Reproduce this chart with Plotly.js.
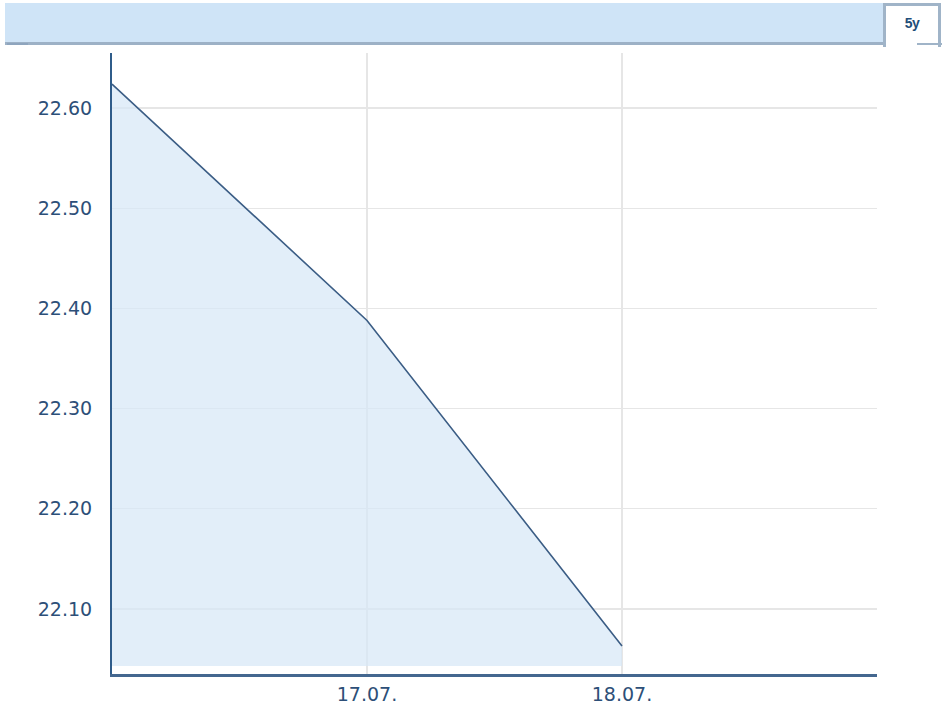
<!DOCTYPE html>
<html>
<head>
<meta charset="utf-8">
<script src="https://cdn.plot.ly/plotly-3.0.1.min.js"></script>
<style>
  html, body { margin: 0; padding: 0; background: #ffffff; }
  #wrap { position: relative; width: 949px; height: 709px; overflow: hidden; }
  #chart { position: absolute; left: 0; top: 0; width: 949px; height: 709px; }
  #banner { position: absolute; left: 5px; top: 3px; width: 878px; height: 39px; background: #cfe4f7; border-bottom: 3px solid #9db1c6; }
  #bseg { position: absolute; left: 7px; top: 43px; width: 21px; height: 2px; background: #8ea5be; }
  #tab { position: absolute; left: 883px; top: 3px; width: 52px; height: 41px; background: #ffffff;
         border-left: 3px solid #a0b4c8; border-top: 3px solid #a0b4c8; border-right: 3px solid #a0b4c8; box-sizing: content-box; }
  #tab span { position: absolute; left: 0; right: 0; top: 9px; text-align: center; font: bold 14px "Liberation Sans", Arial, sans-serif; color: #1f4e79; letter-spacing: -0.5px; }
  #tseg { position: absolute; left: 917px; top: 43px; width: 25px; height: 2px; background: #a0b4c8; }
</style>
</head>
<body>
<div id="wrap">
  <div id="chart"></div>
  <div id="banner"></div>
  <div id="bseg"></div>
  <div id="tab"><span>5y</span></div>
  <div id="tseg"></div>
</div>
<script>
// Data
const dates = ['2024-07-16', '2024-07-17', '2024-07-18'];
const values = [22.624, 22.388, 22.063];
const baseValue = 22.043;
const tickDates = ['2024-07-17', '2024-07-18'];
const tickLabels = ['17.07.', '18.07.'];
const yTicks = [22.10, 22.20, 22.30, 22.40, 22.50, 22.60];
const yTickLabels = ['22.10', '22.20', '22.30', '22.40', '22.50', '22.60'];

const labelFont = { family: 'DejaVu Sans, Verdana, sans-serif', size: 19, color: '#2d4f78' };

const traces = [
  {
    x: dates, y: dates.map(() => baseValue),
    type: 'scatter', mode: 'lines', line: { width: 0, color: 'rgba(0,0,0,0)' },
    hoverinfo: 'skip', showlegend: false
  },
  {
    x: dates, y: values,
    type: 'scatter', mode: 'lines', fill: 'tonexty',
    fillcolor: 'rgba(215,231,247,0.72)',
    line: { color: '#3b5d85', width: 1.6 },
    showlegend: false
  }
];

const layout = {
  width: 949, height: 709,
  margin: { l: 112, r: 72, t: 53, b: 35 },
  paper_bgcolor: '#ffffff', plot_bgcolor: '#ffffff',
  showlegend: false,
  xaxis: {
    type: 'date',
    range: ['2024-07-16', '2024-07-19'],
    tickvals: tickDates, ticktext: tickLabels,
    showgrid: true, gridcolor: '#e6e6e6', gridwidth: 1.5,
    zeroline: false,
    showline: true, linecolor: '#44678f', linewidth: 3,
    ticks: '', ticklabelstandoff: 1,
    tickfont: labelFont,
    layer: 'below traces'
  },
  yaxis: {
    range: [22.035, 22.655],
    tickvals: yTicks, ticktext: yTickLabels,
    showgrid: true, gridcolor: '#e6e6e6', gridwidth: 1.5,
    zeroline: false,
    showline: true, linecolor: '#2f5c8a', linewidth: 2,
    ticks: '', ticklabelstandoff: 14,
    tickfont: labelFont,
    layer: 'below traces'
  }
};

Plotly.newPlot('chart', traces, layout, { displayModeBar: false, staticPlot: true });
</script>
</body>
</html>
